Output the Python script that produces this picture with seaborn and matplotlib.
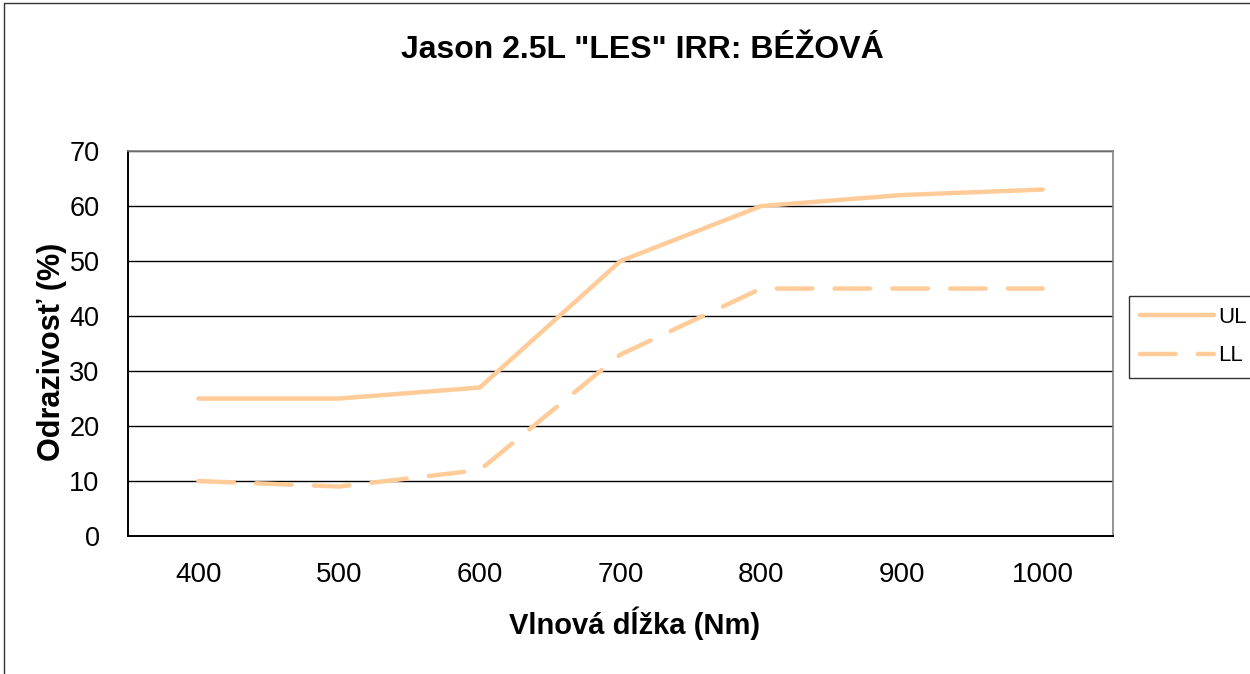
import matplotlib
matplotlib.use('Agg')
import matplotlib.pyplot as plt
from matplotlib.lines import Line2D
import pandas as pd
import seaborn as sns

wavelengths = ['400', '500', '600', '700', '800', '900', '1000']
ul_values = [25, 25, 27, 50, 60, 62, 63]
ll_values = [10, 9, 12, 33, 45, 45, 45]
y_ticks = [0, 10, 20, 30, 40, 50, 60, 70]

sns.set_style('white')
plt.rcParams['font.family'] = ['Liberation Sans', 'DejaVu Sans']
plt.rcParams['text.color'] = 'black'
plt.rcParams['axes.labelcolor'] = 'black'
plt.rcParams['xtick.color'] = 'black'
plt.rcParams['ytick.color'] = 'black'

df = pd.DataFrame({
    'pos': list(range(len(wavelengths))) * 2,
    'value': ul_values + ll_values,
    'series': ['UL'] * len(wavelengths) + ['LL'] * len(wavelengths),
})

fig = plt.figure(figsize=(12.5, 6.74), dpi=100)
ax = fig.add_axes([0.1024, 0.2047, 0.788, 0.5712])

color = '#FFCC99'
dash = (8, 5)
sns.lineplot(data=df, x='pos', y='value', style='series', ax=ax,
             color=color, linewidth=3.2, legend=False,
             dashes={'UL': '', 'LL': dash}, solid_capstyle='round',
             dash_capstyle='round')

ax.set_xlim(-0.5, len(wavelengths) - 0.5)
ax.set_ylim(0, 70)
ax.set_yticks(y_ticks)
ax.set_yticklabels([str(v) for v in y_ticks], fontsize=19.5)
ax.set_xticks([i - 0.5 for i in range(len(wavelengths) + 1)])
ax.set_xticklabels([])
ax.set_xticks(range(len(wavelengths)), minor=True)
ax.set_xticklabels(wavelengths, minor=True, fontsize=20)
ax.tick_params(axis='x', which='major', direction='out', length=8, width=1.2)
ax.tick_params(axis='x', which='minor', length=0, pad=19)
ax.tick_params(axis='y', direction='out', length=8, width=1.2, pad=12.5)

ax.grid(axis='y', color='black', linewidth=1)
ax.set_axisbelow(True)
for side in ['top', 'right']:
    ax.spines[side].set_color('#808080')
    ax.spines[side].set_linewidth(1.2)
for side in ['left', 'bottom']:
    ax.spines[side].set_color('black')
    ax.spines[side].set_linewidth(1.4)

ax.set_xlabel('Vlnová dĺžka (Nm)', fontsize=21, fontweight='bold')
ax.xaxis.set_label_coords(0.514, -0.183)
ax.set_ylabel('Odrazivosť (%)', fontsize=22, fontweight='bold')
ax.yaxis.set_label_coords(-0.062, 0.478)
fig.text(0.514, 0.926, 'Jason 2.5L "LES" IRR: BÉŽOVÁ', ha='center', va='center',
         fontsize=23, fontweight='bold')

handles = [
    Line2D([], [], color=color, linewidth=3.2, solid_capstyle='round', label='UL'),
    Line2D([], [], color=color, linewidth=3.2, dashes=dash, dash_capstyle='round', label='LL'),
]
leg = fig.legend(handles=handles, loc='center left', bbox_to_anchor=(0.9035, 0.5007),
                 frameon=True, fancybox=False, fontsize=16, handlelength=3.3,
                 handletextpad=0.2, labelspacing=0.8, borderpad=0.5,
                 borderaxespad=0)
leg.get_frame().set_edgecolor('black')
leg.get_frame().set_linewidth(1)

fig.add_artist(Line2D([0.0035, 0.0035], [0, 0.996], transform=fig.transFigure,
                      color='#333333', linewidth=1))
fig.add_artist(Line2D([0.0035, 1], [0.996, 0.996], transform=fig.transFigure,
                      color='#333333', linewidth=1))

fig.savefig('out.png', dpi=100)
